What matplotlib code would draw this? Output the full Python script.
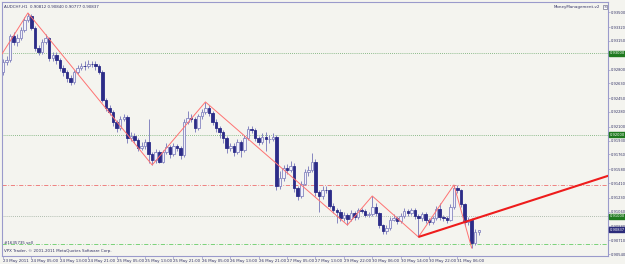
import matplotlib.pyplot as plt
import numpy as np

# hourly AUDCHF candles, 23 May 2011 21:00 .. 31 May 2011 13:00
opens = [
    0.92770, 0.92893, 0.92917, 0.93211, 0.93137, 0.93187, 0.93284, 0.93407, 0.93456, 0.93309,
    0.93064, 0.93015, 0.93137, 0.93187, 0.92942, 0.92978, 0.92917, 0.92819, 0.92770, 0.92697,
    0.92648, 0.92770, 0.92819, 0.92844, 0.92840, 0.92868, 0.92862, 0.92844, 0.92770, 0.92427,
    0.92329, 0.92280, 0.92158, 0.92084, 0.92195, 0.92219, 0.91962, 0.91986, 0.91937, 0.91839,
    0.91864, 0.91913, 0.91766, 0.91692, 0.91790, 0.91668, 0.91790, 0.91851, 0.91766, 0.91864,
    0.91839, 0.91753, 0.92158, 0.92207, 0.92195, 0.92084, 0.92231, 0.92280, 0.92329, 0.92268,
    0.92158, 0.92084, 0.92035, 0.91962, 0.91839, 0.91864, 0.91790, 0.91913, 0.91815, 0.91962,
    0.92072, 0.92060, 0.91962, 0.91913, 0.91974, 0.91949, 0.91955, 0.91974, 0.91374, 0.91472,
    0.91594, 0.91570, 0.91619, 0.91349, 0.91251, 0.91398, 0.91545, 0.91570, 0.91668, 0.91300,
    0.91251, 0.91325, 0.91320, 0.91129, 0.91080, 0.91055, 0.90981, 0.91018, 0.90969, 0.91043,
    0.90994, 0.91080, 0.91067, 0.91018, 0.91030, 0.91117, 0.91043, 0.90895, 0.90822, 0.90859,
    0.90957, 0.90981, 0.90945, 0.91006, 0.91067, 0.91043, 0.91080, 0.91006, 0.90981, 0.91030,
    0.90957, 0.90932, 0.90981, 0.91092, 0.90994, 0.90985, 0.90957, 0.91117, 0.91349, 0.91325,
    0.91153, 0.90932, 0.90957, 0.90675, 0.90812]
closes = [
    0.92893, 0.92917, 0.93211, 0.93137, 0.93187, 0.93284, 0.93407, 0.93456, 0.93309, 0.93064,
    0.93015, 0.93137, 0.93187, 0.92942, 0.92978, 0.92917, 0.92819, 0.92770, 0.92697, 0.92648,
    0.92770, 0.92819, 0.92844, 0.92840, 0.92868, 0.92862, 0.92844, 0.92770, 0.92427, 0.92329,
    0.92280, 0.92158, 0.92084, 0.92195, 0.92219, 0.91962, 0.91986, 0.91937, 0.91839, 0.91864,
    0.91913, 0.91766, 0.91692, 0.91790, 0.91668, 0.91790, 0.91851, 0.91766, 0.91864, 0.91839,
    0.91753, 0.92158, 0.92207, 0.92195, 0.92084, 0.92231, 0.92280, 0.92329, 0.92268, 0.92158,
    0.92084, 0.92035, 0.91962, 0.91839, 0.91864, 0.91790, 0.91913, 0.91815, 0.91962, 0.92072,
    0.92060, 0.91962, 0.91913, 0.91974, 0.91949, 0.91955, 0.91974, 0.91374, 0.91472, 0.91594,
    0.91570, 0.91619, 0.91349, 0.91251, 0.91398, 0.91545, 0.91570, 0.91668, 0.91300, 0.91251,
    0.91325, 0.91320, 0.91129, 0.91080, 0.91055, 0.90981, 0.91018, 0.90969, 0.91043, 0.90994,
    0.91080, 0.91067, 0.91018, 0.91030, 0.91117, 0.91043, 0.90895, 0.90822, 0.90859, 0.90957,
    0.90981, 0.90945, 0.91006, 0.91067, 0.91043, 0.91080, 0.91006, 0.90981, 0.91030, 0.90957,
    0.90932, 0.90981, 0.91092, 0.90994, 0.90985, 0.90957, 0.91117, 0.91349, 0.91325, 0.91153,
    0.90932, 0.90957, 0.90675, 0.90812, 0.90837]
highs = [
    0.92930, 0.92960, 0.93240, 0.93260, 0.93230, 0.93320, 0.93440, 0.93493, 0.93480, 0.93330,
    0.93100, 0.93170, 0.93230, 0.93200, 0.93020, 0.93010, 0.92940, 0.92850, 0.92800, 0.92730,
    0.92800, 0.92860, 0.92880, 0.92900, 0.92920, 0.92910, 0.92900, 0.92870, 0.92790, 0.92450,
    0.92360, 0.92300, 0.92180, 0.92230, 0.92260, 0.92240, 0.92040, 0.92020, 0.91960, 0.91910,
    0.91950, 0.92200, 0.91790, 0.91830, 0.91810, 0.91820, 0.91900, 0.91880, 0.91900, 0.91890,
    0.91860, 0.92190, 0.92290, 0.92250, 0.92220, 0.92260, 0.92320, 0.92403, 0.92360, 0.92290,
    0.92190, 0.92110, 0.92060, 0.91990, 0.91900, 0.91900, 0.91950, 0.91940, 0.92000, 0.92110,
    0.92110, 0.92080, 0.91990, 0.92020, 0.92030, 0.92000, 0.92020, 0.92000, 0.91560, 0.91630,
    0.91640, 0.91680, 0.91650, 0.91370, 0.91430, 0.91580, 0.91620, 0.91780, 0.91700, 0.91330,
    0.91370, 0.91370, 0.91340, 0.91160, 0.91100, 0.91090, 0.91050, 0.91040, 0.91080, 0.91070,
    0.91110, 0.91100, 0.91090, 0.91060, 0.91251, 0.91160, 0.91060, 0.90910, 0.90900, 0.90990,
    0.91030, 0.91000, 0.91040, 0.91100, 0.91090, 0.91110, 0.91100, 0.91030, 0.91060, 0.91050,
    0.90980, 0.91010, 0.91130, 0.91160, 0.91020, 0.91000, 0.91150, 0.91386, 0.91380, 0.91340,
    0.91170, 0.90990, 0.90980, 0.90850, 0.90840]
lows = [
    0.92735, 0.92860, 0.92890, 0.93100, 0.93090, 0.93160, 0.93260, 0.93380, 0.93280, 0.93030,
    0.92980, 0.92990, 0.93110, 0.92900, 0.92910, 0.92870, 0.92780, 0.92720, 0.92650, 0.92610,
    0.92620, 0.92740, 0.92790, 0.92800, 0.92820, 0.92830, 0.92800, 0.92740, 0.92400, 0.92290,
    0.92240, 0.92110, 0.92040, 0.92060, 0.92170, 0.91900, 0.91930, 0.91900, 0.91800, 0.91810,
    0.91830, 0.91660, 0.91631, 0.91660, 0.91650, 0.91650, 0.91760, 0.91720, 0.91740, 0.91800,
    0.91700, 0.91730, 0.92130, 0.92160, 0.92040, 0.92060, 0.92200, 0.92260, 0.92230, 0.92120,
    0.92030, 0.91960, 0.91900, 0.91780, 0.91800, 0.91740, 0.91760, 0.91730, 0.91790, 0.91940,
    0.92020, 0.91920, 0.91870, 0.91890, 0.91800, 0.91900, 0.91930, 0.91320, 0.91340, 0.91440,
    0.91520, 0.91540, 0.91300, 0.91200, 0.91230, 0.91380, 0.91500, 0.91540, 0.91250, 0.91060,
    0.91220, 0.91290, 0.91100, 0.91040, 0.90920, 0.90940, 0.90950, 0.90895, 0.90940, 0.90960,
    0.90970, 0.91040, 0.90990, 0.90990, 0.91000, 0.91000, 0.90860, 0.90786, 0.90790, 0.90830,
    0.90940, 0.90910, 0.90920, 0.90980, 0.91010, 0.91020, 0.90970, 0.90749, 0.90950, 0.90920,
    0.90900, 0.90910, 0.90960, 0.90960, 0.90940, 0.90920, 0.90940, 0.91090, 0.91290, 0.91120,
    0.90880, 0.90900, 0.90614, 0.90650, 0.90777]

# zigzag pivots (bar index, price)
zz_bars = [-2, 7, 42, 57, 97, 104, 117, 127, 132]
zz_prices = [0.92874, 0.93493, 0.91631, 0.92403, 0.90895, 0.91251, 0.90749, 0.91386, 0.90614]

# hand drawn trend line (two anchor points, ray to the right)
trend_bars = [117, 160]
trend_prices = [0.90749, 0.91352]

date_bars = [0, 8, 16, 24, 32, 40, 48, 56, 64, 72, 80, 88, 96, 104, 112, 120, 128]
date_labels = ["23 May 2011", "24 May 05:00", "24 May 13:00", "24 May 21:00",
               "25 May 05:00", "25 May 13:00", "25 May 21:00", "26 May 05:00",
               "26 May 13:00", "26 May 21:00", "27 May 05:00", "27 May 13:00",
               "29 May 22:00", "30 May 06:00", "30 May 14:00", "30 May 22:00",
               "31 May 06:00"]

price_ticks = [0.90540, 0.90710, 0.90880, 0.91060, 0.91230, 0.91410, 0.91580, 0.91760,
               0.91930, 0.92100, 0.92280, 0.92450, 0.92630, 0.92800, 0.92980, 0.93150,
               0.93320, 0.93500]
hidden_tick = 0.92980  # covered by the 0.93000 tag

level_prices = [0.93000, 0.92000, 0.91380, 0.91000, 0.90663]
level_colors = ["#6aa86a", "#6aa86a", "#ee6f6f", "#9aaa9a", "#66cc66"]
level_styles = [(0, (1, 1.5)), (0, (1, 1.5)), (0, (5, 2, 1, 2)), (0, (1, 1.5)), (0, (5, 2, 1, 2))]

bid = 0.90837
tagged = [0.93000, 0.92000, 0.91000]

bg = "#f4f4ef"
frame = "#9a9acb"
bull_face = "#f2f2fa"
bull_edge = "#8686c0"
bear_face = "#2c2c88"

fig = plt.figure(figsize=(6.25, 2.64), dpi=100, facecolor=bg)
ax = fig.add_axes([2 / 625, 8 / 264, 606 / 625, 254 / 264])
ax.set_facecolor(bg)
ax.set_xlim(-0.3, 170.4)
ax.set_ylim(0.90516, 0.93627)

x = np.arange(len(closes))
o = np.array(opens)
c = np.array(closes)
up = c >= o

ax.vlines(x, lows, highs, color=bull_edge, lw=0.7, zorder=3)
body_lo = np.minimum(o, c)
body_h = np.maximum(np.abs(c - o), 0.00003)
ax.bar(x[up], body_h[up], bottom=body_lo[up], width=0.7, color=bull_face,
       edgecolor=bull_edge, linewidth=0.6, zorder=4)
ax.bar(x[~up], body_h[~up], bottom=body_lo[~up], width=0.7, color=bear_face,
       edgecolor=bear_face, linewidth=0.6, zorder=4)

for p, col, ls in zip(level_prices, level_colors, level_styles):
    ax.axhline(p, color=col, lw=0.6, ls=ls, zorder=2)

ax.plot(zz_bars, zz_prices, color="#ff7272", lw=0.7, zorder=5)

slope = (trend_prices[1] - trend_prices[0]) / (trend_bars[1] - trend_bars[0])
x_end = 172
ax.plot([trend_bars[0], x_end], [trend_prices[0], trend_prices[0] + slope * (x_end - trend_bars[0])],
        color="#ee1c1c", lw=1.5, zorder=6, solid_capstyle="butt")

fs = 2.9
fs_y = 2.6
txt = "#333366"

# price scale on the right
ax.yaxis.tick_right()
ax.set_yticks(price_ticks)
ax.set_yticklabels(["" if v == hidden_tick else f"{v:.5f}" for v in price_ticks])
ax.tick_params(axis="y", length=1.5, width=0.5, color=frame, labelsize=fs_y, labelcolor=txt, pad=0.4)

# time scale
ax.set_xticks(date_bars)
ax.set_xticklabels(date_labels)
for lab in ax.get_xticklabels():
    lab.set_horizontalalignment("left")
ax.tick_params(axis="x", length=2, width=0.5, color=frame, labelsize=fs, labelcolor=txt, pad=0.5)

for s in ax.spines.values():
    s.set_color(frame)
    s.set_linewidth(0.8)

for p in tagged:
    ax.text(1.0025, p, f"{p:.5f}", transform=ax.get_yaxis_transform(), fontsize=fs_y,
            color="white", va="center", ha="left", zorder=10,
            bbox=dict(boxstyle="square,pad=0.15", fc="#1f7a1f", ec="#1f7a1f"))
ax.text(1.0025, bid, f"{bid:.5f}", transform=ax.get_yaxis_transform(), fontsize=fs_y,
        color="white", va="center", ha="left", zorder=10,
        bbox=dict(boxstyle="square,pad=0.15", fc="#2b2b7a", ec="#2b2b7a"))

ax.text(0.004, 0.988, "AUDCHF,H1  0.90812 0.90840 0.90777 0.90837", transform=ax.transAxes,
        fontsize=fs, color=txt, va="top", ha="left")
ax.text(0.987, 0.988, "MoneyManagement-v2", transform=ax.transAxes,
        fontsize=fs, color=txt, va="top", ha="right")
ax.text(0.9955, 0.988, "\u00d7", transform=ax.transAxes, fontsize=fs, color=txt,
        va="top", ha="center",
        bbox=dict(boxstyle="square,pad=0.1", fc="white", ec="#555577", lw=0.4))
ax.text(0.004, 0.052, "#1635735 sell", transform=ax.transAxes,
        fontsize=fs, color=txt, va="center", ha="left")
ax.text(0.004, 0.012, "VPX Trader, \u00a9 2001-2011 MetaQuotes Software Corp.", transform=ax.transAxes,
        fontsize=fs, color=txt, va="bottom", ha="left")

fig.savefig("out.png", dpi=100, facecolor=bg)
